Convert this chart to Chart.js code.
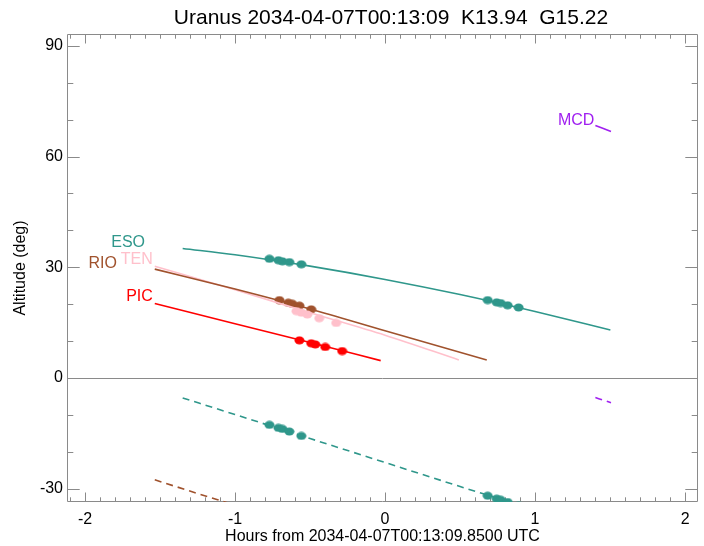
<!DOCTYPE html>
<html>
<head>
<meta charset="utf-8">
<script src="https://cdn.jsdelivr.net/npm/chart.js@4.4.1/dist/chart.umd.min.js"></script>
<style>
  html, body { margin: 0; padding: 0; background: #fff; }
  #wrap { width: 704px; height: 546px; }
</style>
</head>
<body>
<div id="wrap"><canvas id="altChart" width="704" height="546"></canvas></div>
<script>
const titleText = "Uranus 2034-04-07T00:13:09  K13.94  G15.22";
const xTitle = "Hours from 2034-04-07T00:13:09.8500 UTC";
const yTitle = "Altitude (deg)";
const xTicks = [-2, -1, 0, 1, 2];
const yTicks = [-30, 0, 30, 60, 90];

// altitude tracks (hours, deg)
const esoHours = [-1.349, -1.0, -0.5, 0.0, 0.5, 1.0, 1.502];
const esoAlt = [35.1, 33.4, 30.3, 26.7, 22.6, 18.0, 13.0];
const esoDashAlt = [-5.4, -9.9, -16.4, -22.9, -29.4, -35.8, -42.4];
const rioHours = [-1.535, -1.0, -0.5, 0.0, 0.678];
const rioAlt = [29.5, 24.1, 18.7, 12.8, 4.9];
const rioDashHours = [-1.535, -1.116, -0.9];
const rioDashAlt = [-27.6, -33.0, -35.7];
const tenHours = [-1.535, -1.0, -0.5, 0.0, 0.492];
const tenAlt = [30.3, 23.9, 17.7, 11.6, 4.9];
const picHours = [-1.535, -1.0, -0.5, -0.029];
const picAlt = [20.2, 14.7, 9.6, 4.7];
const mcdHours = [1.402, 1.506];
const mcdAlt = [68.4, 66.8];
const mcdDashAlt = [-5.3, -6.7];

// observation dots
const esoDotHours = [-0.771, -0.711, -0.684, -0.638, -0.558, 0.684, 0.744, 0.771, 0.817, 0.890];
const esoDotAlt = [32.3, 31.9, 31.6, 31.4, 30.8, 21.1, 20.5, 20.3, 19.7, 19.1];
const esoDotDashAlt = [-12.7, -13.5, -13.8, -14.5, -15.7, -31.9, -32.7, -33.0, -33.6, -34.5];
const rioDotHours = [-0.704, -0.645, -0.618, -0.571, -0.492];
const rioDotAlt = [21.1, 20.4, 20.1, 19.6, 18.6];
const tenDotHours = [-0.591, -0.558, -0.518, -0.439, -0.326];
const tenDotAlt = [18.1, 17.7, 17.2, 16.2, 14.9];
const picDotHours = [-0.571, -0.492, -0.465, -0.399, -0.286];
const picDotAlt = [10.2, 9.4, 9.1, 8.4, 7.3];

// site name labels (anchor = right end of text)
const siteNames = ["ESO", "TEN", "RIO", "PIC", "MCD"];
const labelHours = [-1.60, -1.548, -1.787, -1.548, 1.395];
const labelAlt = [36.7, 32.0, 30.9, 22.0, 69.8];

const colors = { ESO: "#2f978b", TEN: "#ffc0cb", RIO: "#a0522d", PIC: "#ff0000", MCD: "#a020f0" };
const FONT = "'Liberation Sans', Arial, Helvetica, sans-serif";
const AXIS = "#8a8a8a";

const pts = (xs, ys) => xs.map((x, i) => ({ x, y: ys[i] }));

function dotImage(color) {
  const c = document.createElement("canvas");
  c.width = 11; c.height = 9;
  const g = c.getContext("2d");
  g.fillStyle = color;
  g.beginPath();
  g.ellipse(5.5, 4.5, 5, 4, 0, 0, Math.PI * 2);
  g.fill();
  return c;
}

function track(site, data, dashed) {
  return {
    data, showLine: true, pointRadius: 0, borderColor: colors[site], borderWidth: 1.6,
    borderDash: dashed ? [7, 5] : [], cubicInterpolationMode: "monotone", fill: false,
  };
}

function dots(site, data) {
  return { data, showLine: false, pointStyle: dotImage(colors[site]), pointRadius: 5, pointHoverRadius: 5 };
}

const framePlugin = {
  id: "frame",
  beforeDatasetsDraw(chart) {
    const { ctx, chartArea: a, scales: { x, y } } = chart;
    ctx.save();
    ctx.strokeStyle = AXIS;
    ctx.lineWidth = 1;
    ctx.beginPath();
    const y0 = Math.round(y.getPixelForValue(0)) + 0.5;
    ctx.moveTo(a.left, y0); ctx.lineTo(a.right, y0);
    ctx.rect(a.left + 0.5, a.top + 0.5, a.width - 1, a.height - 1);
    for (let i = -21; i <= 21; i++) {
      const v = i / 10;
      if (v < x.min || v > x.max) continue;
      const len = i % 10 === 0 ? 9.5 : 4.7;
      const px = Math.round(x.getPixelForValue(v)) + 0.5;
      ctx.moveTo(px, a.bottom); ctx.lineTo(px, a.bottom - len);
      ctx.moveTo(px, a.top); ctx.lineTo(px, a.top + len);
    }
    for (let v = -30; v <= 90; v += 10) {
      const len = v % 30 === 0 ? 12.7 : 6.3;
      const py = Math.round(y.getPixelForValue(v)) + 0.5;
      ctx.moveTo(a.left, py); ctx.lineTo(a.left + len, py);
      ctx.moveTo(a.right, py); ctx.lineTo(a.right - len, py);
    }
    ctx.stroke();
    ctx.restore();
  },
  afterDatasetsDraw(chart) {
    const { ctx, scales: { x, y } } = chart;
    ctx.save();
    ctx.font = "16px " + FONT;
    ctx.textAlign = "right";
    ctx.textBaseline = "middle";
    siteNames.forEach((name, i) => {
      ctx.fillStyle = colors[name];
      ctx.fillText(name, x.getPixelForValue(labelHours[i]), y.getPixelForValue(labelAlt[i]));
    });
    ctx.fillStyle = "#000";
    ctx.font = "21px " + FONT;
    ctx.textAlign = "center";
    ctx.fillText(titleText, 391, 18);
    ctx.restore();
  },
};

new Chart(document.getElementById("altChart"), {
  type: "scatter",
  data: {
    datasets: [
      track("ESO", pts(esoHours, esoAlt), false),
      track("ESO", pts(esoHours, esoDashAlt), true),
      track("RIO", pts(rioHours, rioAlt), false),
      track("RIO", pts(rioDashHours, rioDashAlt), true),
      track("TEN", pts(tenHours, tenAlt), false),
      track("PIC", pts(picHours, picAlt), false),
      track("MCD", pts(mcdHours, mcdAlt), false),
      track("MCD", pts(mcdHours, mcdDashAlt), true),
      dots("ESO", pts(esoDotHours, esoDotAlt)),
      dots("ESO", pts(esoDotHours, esoDotDashAlt)),
      dots("TEN", pts(tenDotHours, tenDotAlt)),
      dots("RIO", pts(rioDotHours, rioDotAlt)),
      dots("PIC", pts(picDotHours, picDotAlt)),
    ],
  },
  options: {
    responsive: false,
    animation: false,
    layout: { padding: { top: 34, right: 4, left: 0, bottom: 0 } },
    plugins: { legend: { display: false }, tooltip: { enabled: false } },
    scales: {
      x: {
        type: "linear", min: -2.12, max: 2.086,
        afterBuildTicks: s => { s.ticks = xTicks.map(v => ({ value: v })); },
        afterFit: s => { s.height = 44; },
        grid: { display: false, drawTicks: false },
        border: { display: false },
        ticks: { color: "#000", font: { family: FONT, size: 16 }, padding: 8, maxRotation: 0, autoSkip: false },
        title: { display: true, text: xTitle, color: "#000", font: { family: FONT, size: 16 }, padding: { bottom: 0 } },
      },
      y: {
        type: "linear", min: -33.6, max: 93.2,
        afterBuildTicks: s => { s.ticks = yTicks.map(v => ({ value: v })); },
        afterFit: s => { s.width = 67; },
        grid: { display: false, drawTicks: false },
        border: { display: false },
        ticks: { color: "#000", font: { family: FONT, size: 16 }, padding: 4, autoSkip: false },
        title: { display: true, text: yTitle, color: "#000", font: { family: FONT, size: 16 }, padding: { top: 11 } },
      },
    },
  },
  plugins: [framePlugin],
});
</script>
</body>
</html>
